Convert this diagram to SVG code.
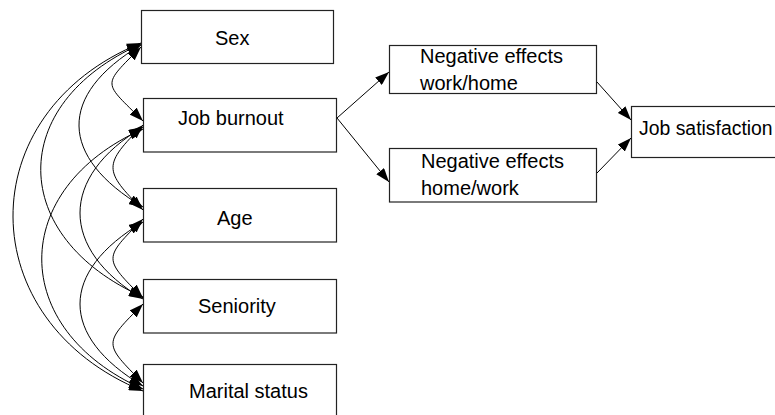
<svg xmlns="http://www.w3.org/2000/svg" width="775" height="415" viewBox="0 0 775 415">
<defs>
<style>
.box{fill:#fff;stroke:#222;stroke-width:1.2}
.t{font-family:"Liberation Sans",Arial,sans-serif;font-size:20px;fill:#000}
.c{fill:none;stroke:#000;stroke-width:1}
</style>
<marker id="ah" viewBox="0 0 14 10" refX="14" refY="5" markerWidth="14" markerHeight="10" markerUnits="userSpaceOnUse" orient="auto-start-reverse">
<path d="M0,0 L14,5 L0,10 Z" fill="#000"/>
</marker>
</defs>
<rect width="775" height="415" fill="#fff"/>
<g id="connectors">
<path class="c" marker-start="url(#ah)" marker-end="url(#ah)" d="M141,47 C101,87 103,81 143,121"/>
<path class="c" marker-start="url(#ah)" marker-end="url(#ah)" d="M141,45 C57,95 59,157 143,207"/>
<path class="c" marker-start="url(#ah)" marker-end="url(#ah)" d="M141,44 C6,104 8,237 143,297"/>
<path class="c" marker-start="url(#ah)" marker-end="url(#ah)" d="M141,43 C-31,113 -29,321 143,391"/>
<path class="c" marker-start="url(#ah)" marker-end="url(#ah)" d="M143,125 C103,165 103,170 143,210"/>
<path class="c" marker-start="url(#ah)" marker-end="url(#ah)" d="M143,127 C59,177 59,249 143,299"/>
<path class="c" marker-start="url(#ah)" marker-end="url(#ah)" d="M143,129 C8,189 8,329 143,389"/>
<path class="c" marker-start="url(#ah)" marker-end="url(#ah)" d="M143,219 C103,259 103,258 143,298"/>
<path class="c" marker-start="url(#ah)" marker-end="url(#ah)" d="M143,222 C59,272 59,336 143,386"/>
<path class="c" marker-start="url(#ah)" marker-end="url(#ah)" d="M143,304 C103,344 103,343 143,383"/>
<path class="c" marker-end="url(#ah)" d="M337,118 L389,72"/>
<path class="c" marker-end="url(#ah)" d="M337,118 L389,182"/>
<path class="c" marker-end="url(#ah)" d="M597,82 L631,120"/>
<path class="c" marker-end="url(#ah)" d="M597,173 L631,138"/>
</g>
<g id="sex"><rect class="box" x="141.5" y="10.5" width="192" height="53"/><text class="t" x="215" y="45">Sex</text></g>
<g id="job-burnout"><rect class="box" x="143.5" y="98.5" width="193" height="53.5"/><text class="t" x="178" y="125">Job burnout</text></g>
<g id="age"><rect class="box" x="143.5" y="188.5" width="193" height="53.5"/><text class="t" x="217" y="225">Age</text></g>
<g id="seniority"><rect class="box" x="143.5" y="279.5" width="193" height="53.5"/><text class="t" x="198" y="313">Seniority</text></g>
<g id="marital-status"><rect class="box" x="143.5" y="364.5" width="193" height="60"/><text class="t" x="189" y="398">Marital status</text></g>
<g id="neg-work-home"><rect class="box" x="389.5" y="45.5" width="207" height="48"/><text class="t" x="420" y="63">Negative effects</text><text class="t" x="420" y="90">work/home</text></g>
<g id="neg-home-work"><rect class="box" x="389.5" y="148.5" width="207" height="53.5"/><text class="t" x="421" y="168">Negative effects</text><text class="t" x="421" y="195">home/work</text></g>
<g id="job-satisfaction"><rect class="box" x="631.5" y="106.5" width="160" height="51"/><text class="t" x="639" y="135" style="font-size:19.4px">Job satisfaction</text></g>
</svg>
